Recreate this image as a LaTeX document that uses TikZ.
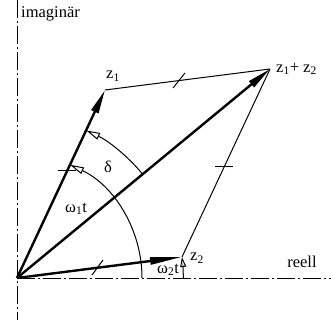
\documentclass[tikz,border=0pt]{standalone}
\usepackage{fontspec}
\setmainfont{Liberation Serif}
\usetikzlibrary{arrows.meta}
\begin{document}
\begin{tikzpicture}[x=1pt,y=1pt,
  axis/.style={line width=0.8pt, dash pattern=on 18pt off 3pt on 2pt off 3pt},
  vec/.style={line width=2.4pt, -{Triangle[length=24pt,width=7.5pt]}},
  veclong/.style={line width=2.4pt, -{Triangle[length=32pt,width=7pt]}},
  edgeline/.style={line width=1pt},
  tickmark/.style={line width=1pt},
  angarc/.style={line width=1pt, -{Triangle[open,length=14pt,width=7pt]}},
  smallarc/.style={line width=1pt, -{Triangle[open,length=10pt,width=6pt]}},
  lbl/.style={font=\fontsize{16.5}{19}\selectfont, inner sep=1pt}]
\useasboundingbox (0,0) rectangle (331,320);
\coordinate (O) at (17,42);
\coordinate (z1) at (105,230);
\coordinate (z2) at (182,63);
\coordinate (S) at (270,251);
\coordinate (ytop) at (17,320);
\coordinate (ybot) at (17,0);
\coordinate (xend) at (331,42);
% axes
\draw[axis] (ytop) -- (ybot);
\draw[axis] (O) -- (xend);
% parallelogram edges
\draw[edgeline] (z1) -- (S);
\draw[edgeline] (z2) -- (S);
% angle arcs
\draw[angarc] (O) ++(0:125) arc[start angle=0, end angle=64.9, radius=125];
\draw[angarc] (O) ++(39.7:163) arc[start angle=39.7, end angle=64.9, radius=163];
\draw[smallarc] (O) ++(0:166.3) arc[start angle=0, end angle=7.25, radius=166.3];
% vectors
\draw[vec] (O) -- (z1);
\draw[veclong] (O) -- (z2);
\draw[vec] (O) -- (S);
% tick marks
\draw[tickmark] (58,149) -- (76,149);
\draw[tickmark] (215,153) -- (233,153);
\draw[tickmark] (173,232) -- (185,247);
\draw[tickmark] (92,45) -- (103,60);
% labels
\node[lbl, anchor=west] (lim) at (20,306) {imaginär};
\node[lbl] (lz1) at (113,244) {z\textsubscript{1}};
\node[lbl, anchor=west] (lS) at (275,251) {z\textsubscript{1}+ z\textsubscript{2}};
\node[lbl, anchor=west] (lz2) at (189,62) {z\textsubscript{2}};
\node[lbl] (lre) at (302,58) {reell};
\node[lbl] (ld) at (108,153) {δ};
\node[lbl] (lw1) at (76,111) {ω\textsubscript{1}t};
\node[lbl] (lw2) at (168,50) {ω\textsubscript{2}t};
\end{tikzpicture}
\end{document}
